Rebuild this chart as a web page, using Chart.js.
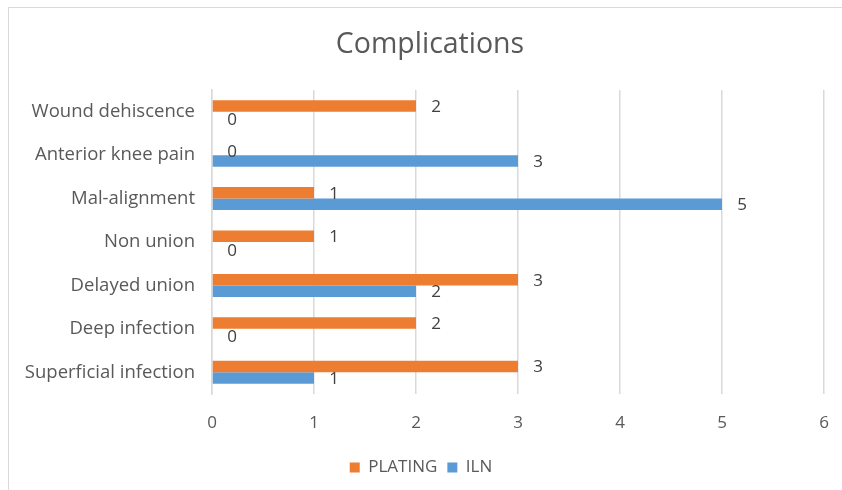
<!DOCTYPE html>
<html>
<head>
<meta charset="utf-8">
<script src="https://cdn.jsdelivr.net/npm/chart.js@4.4.1/dist/chart.umd.min.js"></script>
<style>
  html, body { margin: 0; padding: 0; background: #fff; }
  #wrap { position: relative; width: 842px; height: 490px; }
  #frame { position: absolute; left: 8px; top: 7px; width: 860px; height: 500px;
           border-left: 1.5px solid #d9d9d9; border-top: 1.5px solid #d9d9d9; box-sizing: border-box; }
  canvas { position: absolute; left: 0; top: 0; }
</style>
</head>
<body>
<div id="wrap">
  <div id="frame"></div>
  <canvas id="chart" width="842" height="490"></canvas>
</div>
<script>
// Complication counts per fixation method
const categories = [
  "Wound dehiscence",
  "Anterior knee pain",
  "Mal-alignment",
  "Non union",
  "Delayed union",
  "Deep infection",
  "Superficial infection"
];
const platingValues = [2, 0, 1, 1, 3, 2, 3];
const ilnValues     = [0, 3, 5, 0, 2, 0, 1];
const xTicks = [0, 1, 2, 3, 4, 5, 6];
const chartTitle = "Complications";

const FONT = "'Open Sans', 'DejaVu Sans', sans-serif";
const TEXT = "#595959";

// Writes each bar's value just past its end
const valueLabels = {
  id: "valueLabels",
  afterDatasetsDraw(chart) {
    const ctx = chart.ctx;
    ctx.save();
    ctx.font = "17px " + FONT;
    ctx.fillStyle = "#404040";
    ctx.textAlign = "center";
    ctx.textBaseline = "middle";
    chart.data.datasets.forEach((ds, i) => {
      chart.getDatasetMeta(i).data.forEach((bar, j) => {
        const dy = ds.data[j] === 0 ? 2 : 0;
        ctx.fillText(String(ds.data[j]), bar.x + 20, bar.y + 1 + dy);
      });
    });
    ctx.restore();
  }
};

// Heading centred over the framed chart panel
const panelTitle = {
  id: "panelTitle",
  afterDraw(chart) {
    const ctx = chart.ctx;
    ctx.save();
    ctx.font = "28.5px " + FONT;
    ctx.fillStyle = TEXT;
    ctx.textAlign = "center";
    ctx.textBaseline = "middle";
    ctx.fillText(chartTitle, 430, 45);
    ctx.restore();
  }
};

new Chart(document.getElementById("chart"), {
  type: "bar",
  data: {
    labels: categories,
    datasets: [
      { label: "PLATING", data: platingValues, backgroundColor: "#ED7D31" },
      { label: "ILN", data: ilnValues, backgroundColor: "#5B9BD5" }
    ]
  },
  options: {
    indexAxis: "y",
    responsive: false,
    animation: false,
    datasets: { bar: { categoryPercentage: 0.53, barPercentage: 1.0 } },
    layout: { padding: { left: 18, right: 18, top: 90, bottom: 4 } },
    plugins: {
      title: { display: false },
      legend: {
        position: "bottom",
        labels: {
          color: TEXT,
          font: { family: FONT, size: 17 },
          boxWidth: 10,
          boxHeight: 10,
          padding: 10
        }
      },
      tooltip: { enabled: false }
    },
    scales: {
      x: {
        min: 0,
        max: 6,
        afterBuildTicks(axis) { axis.ticks = xTicks.map(v => ({ value: v })); },
        afterFit(axis) {
          axis.height = 55;
          axis.paddingLeft = 0;
          axis.paddingRight = 0;
        },
        grid: { color: "#d9d9d9", lineWidth: 1.5, drawTicks: false },
        border: { display: false },
        ticks: { color: TEXT, font: { family: FONT, size: 17 }, padding: 19 }
      },
      y: {
        afterFit(axis) { axis.width = 194; },
        grid: { display: false, drawTicks: false },
        border: { display: true, color: "#d9d9d9", width: 1.5 },
        ticks: { color: TEXT, font: { family: FONT, size: 18.5 }, padding: 17 }
      }
    }
  },
  plugins: [valueLabels, panelTitle]
});
</script>
</body>
</html>
